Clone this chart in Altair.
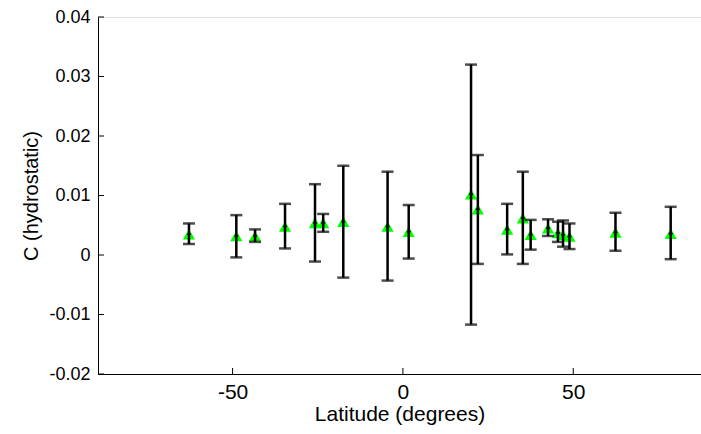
import altair as alt
import pandas as pd

lat = [-62.8, -48.9, -43.4, -34.6, -25.8, -23.4, -17.5, -4.5, 1.7, 20.0,
       22.0, 30.6, 35.2, 37.5, 42.6, 45.5, 47.0, 48.9, 62.4, 78.6]
c_val = [0.0035, 0.0032, 0.0032, 0.0048, 0.0054, 0.0054, 0.0056, 0.0048, 0.0039, 0.0102,
         0.0077, 0.0043, 0.0062, 0.0034, 0.0045, 0.0037, 0.0034, 0.0031, 0.0038, 0.0036]
c_low = [0.00185, -0.0004, 0.0022, 0.0011, -0.0011, 0.0039, -0.0038, -0.0043, -0.0006, -0.0117,
         -0.0015, 0.0001, -0.0015, 0.0009, 0.0032, 0.0022, 0.0014, 0.0010, 0.0007, -0.0007]
c_high = [0.0053, 0.0067, 0.0043, 0.0086, 0.0119, 0.0069, 0.0150, 0.0140, 0.0084, 0.0320,
          0.0168, 0.0086, 0.0140, 0.0059, 0.0060, 0.0056, 0.0058, 0.0053, 0.0071, 0.0081]

x_ticks = [-50, 0, 50]
y_ticks = [-0.02, -0.01, 0, 0.01, 0.02, 0.03, 0.04]

df = pd.DataFrame({"lat": lat, "c": c_val, "lo": c_low, "hi": c_high})
xt = pd.DataFrame({"v": x_ticks})
yt = pd.DataFrame({"v": y_ticks})

W, H = 603, 357
FONT = "Liberation Sans"
xdom = [-89.5, 87.5]
ydom = [-0.02, 0.04]

xscale = alt.Scale(domain=xdom, nice=False, zero=False)
yscale = alt.Scale(domain=ydom, nice=False, zero=False)

xaxis = alt.Axis(values=x_ticks, title="Latitude (degrees)", grid=False, tickSize=0,
                 labelPadding=7, titlePadding=1, domainColor="black", domainWidth=1,
                 labelColor="black", titleColor="black", labelFont=FONT, titleFont=FONT,
                 labelFontSize=21, titleFontSize=21, titleFontWeight="normal",
                 labelExpr="datum.value < 0 ? '-' + format(-datum.value, 'd') : format(datum.value, 'd')")
yaxis = alt.Axis(values=y_ticks, title="C (hydrostatic)", grid=False, tickSize=0,
                 labelPadding=8, titlePadding=7, domainColor="black", domainWidth=1,
                 labelColor="black", titleColor="black", labelFont=FONT, titleFont=FONT,
                 labelFontSize=18, titleFontSize=20, titleFontWeight="normal",
                 labelExpr="abs(datum.value) < 1e-9 ? '0' : (datum.value < 0 ? '-' + format(-datum.value, '.2f') : format(datum.value, '.2f'))")

base = alt.Chart(df)

axes_layer = base.mark_point(opacity=0).encode(
    x=alt.X("lat:Q", scale=xscale, axis=xaxis),
    y=alt.Y("c:Q", scale=yscale, axis=yaxis),
)

xtick_marks = alt.Chart(xt).mark_rule(color="black", strokeWidth=1).encode(
    x=alt.X("v:Q", scale=xscale), y=alt.value(H), y2=alt.value(H - 6))
ytick_marks = alt.Chart(yt).mark_rule(color="black", strokeWidth=1).encode(
    y=alt.Y("v:Q", scale=yscale), x=alt.value(0), x2=alt.value(6))

tri = base.mark_point(shape="triangle-up", filled=True, color="#00ff00", size=150, opacity=1).encode(
    x=alt.X("lat:Q", scale=xscale), y=alt.Y("c:Q", scale=yscale))

bars = base.mark_rule(color="black", strokeWidth=2.5).encode(
    x=alt.X("lat:Q", scale=xscale), y=alt.Y("lo:Q", scale=yscale), y2="hi:Q")
cap_lo = base.mark_tick(color="black", orient="horizontal", size=12, thickness=2.5).encode(
    x=alt.X("lat:Q", scale=xscale), y=alt.Y("lo:Q", scale=yscale))
cap_hi = base.mark_tick(color="black", orient="horizontal", size=12, thickness=2.5).encode(
    x=alt.X("lat:Q", scale=xscale), y=alt.Y("hi:Q", scale=yscale))
center = base.mark_point(shape="cross", filled=True, color="black", size=16, opacity=1).encode(
    x=alt.X("lat:Q", scale=xscale), y=alt.Y("c:Q", scale=yscale))

chart = alt.layer(axes_layer, xtick_marks, ytick_marks, tri, bars, cap_lo, cap_hi, center).properties(
    width=W, height=H,
    autosize=alt.AutoSizeParams(type="none"),
    padding={"left": 98, "top": 17, "right": 0, "bottom": 60},
).configure_view(stroke=None).configure(background="white")

chart.save("out.html", embed_options={"renderer": "svg", "actions": False})
